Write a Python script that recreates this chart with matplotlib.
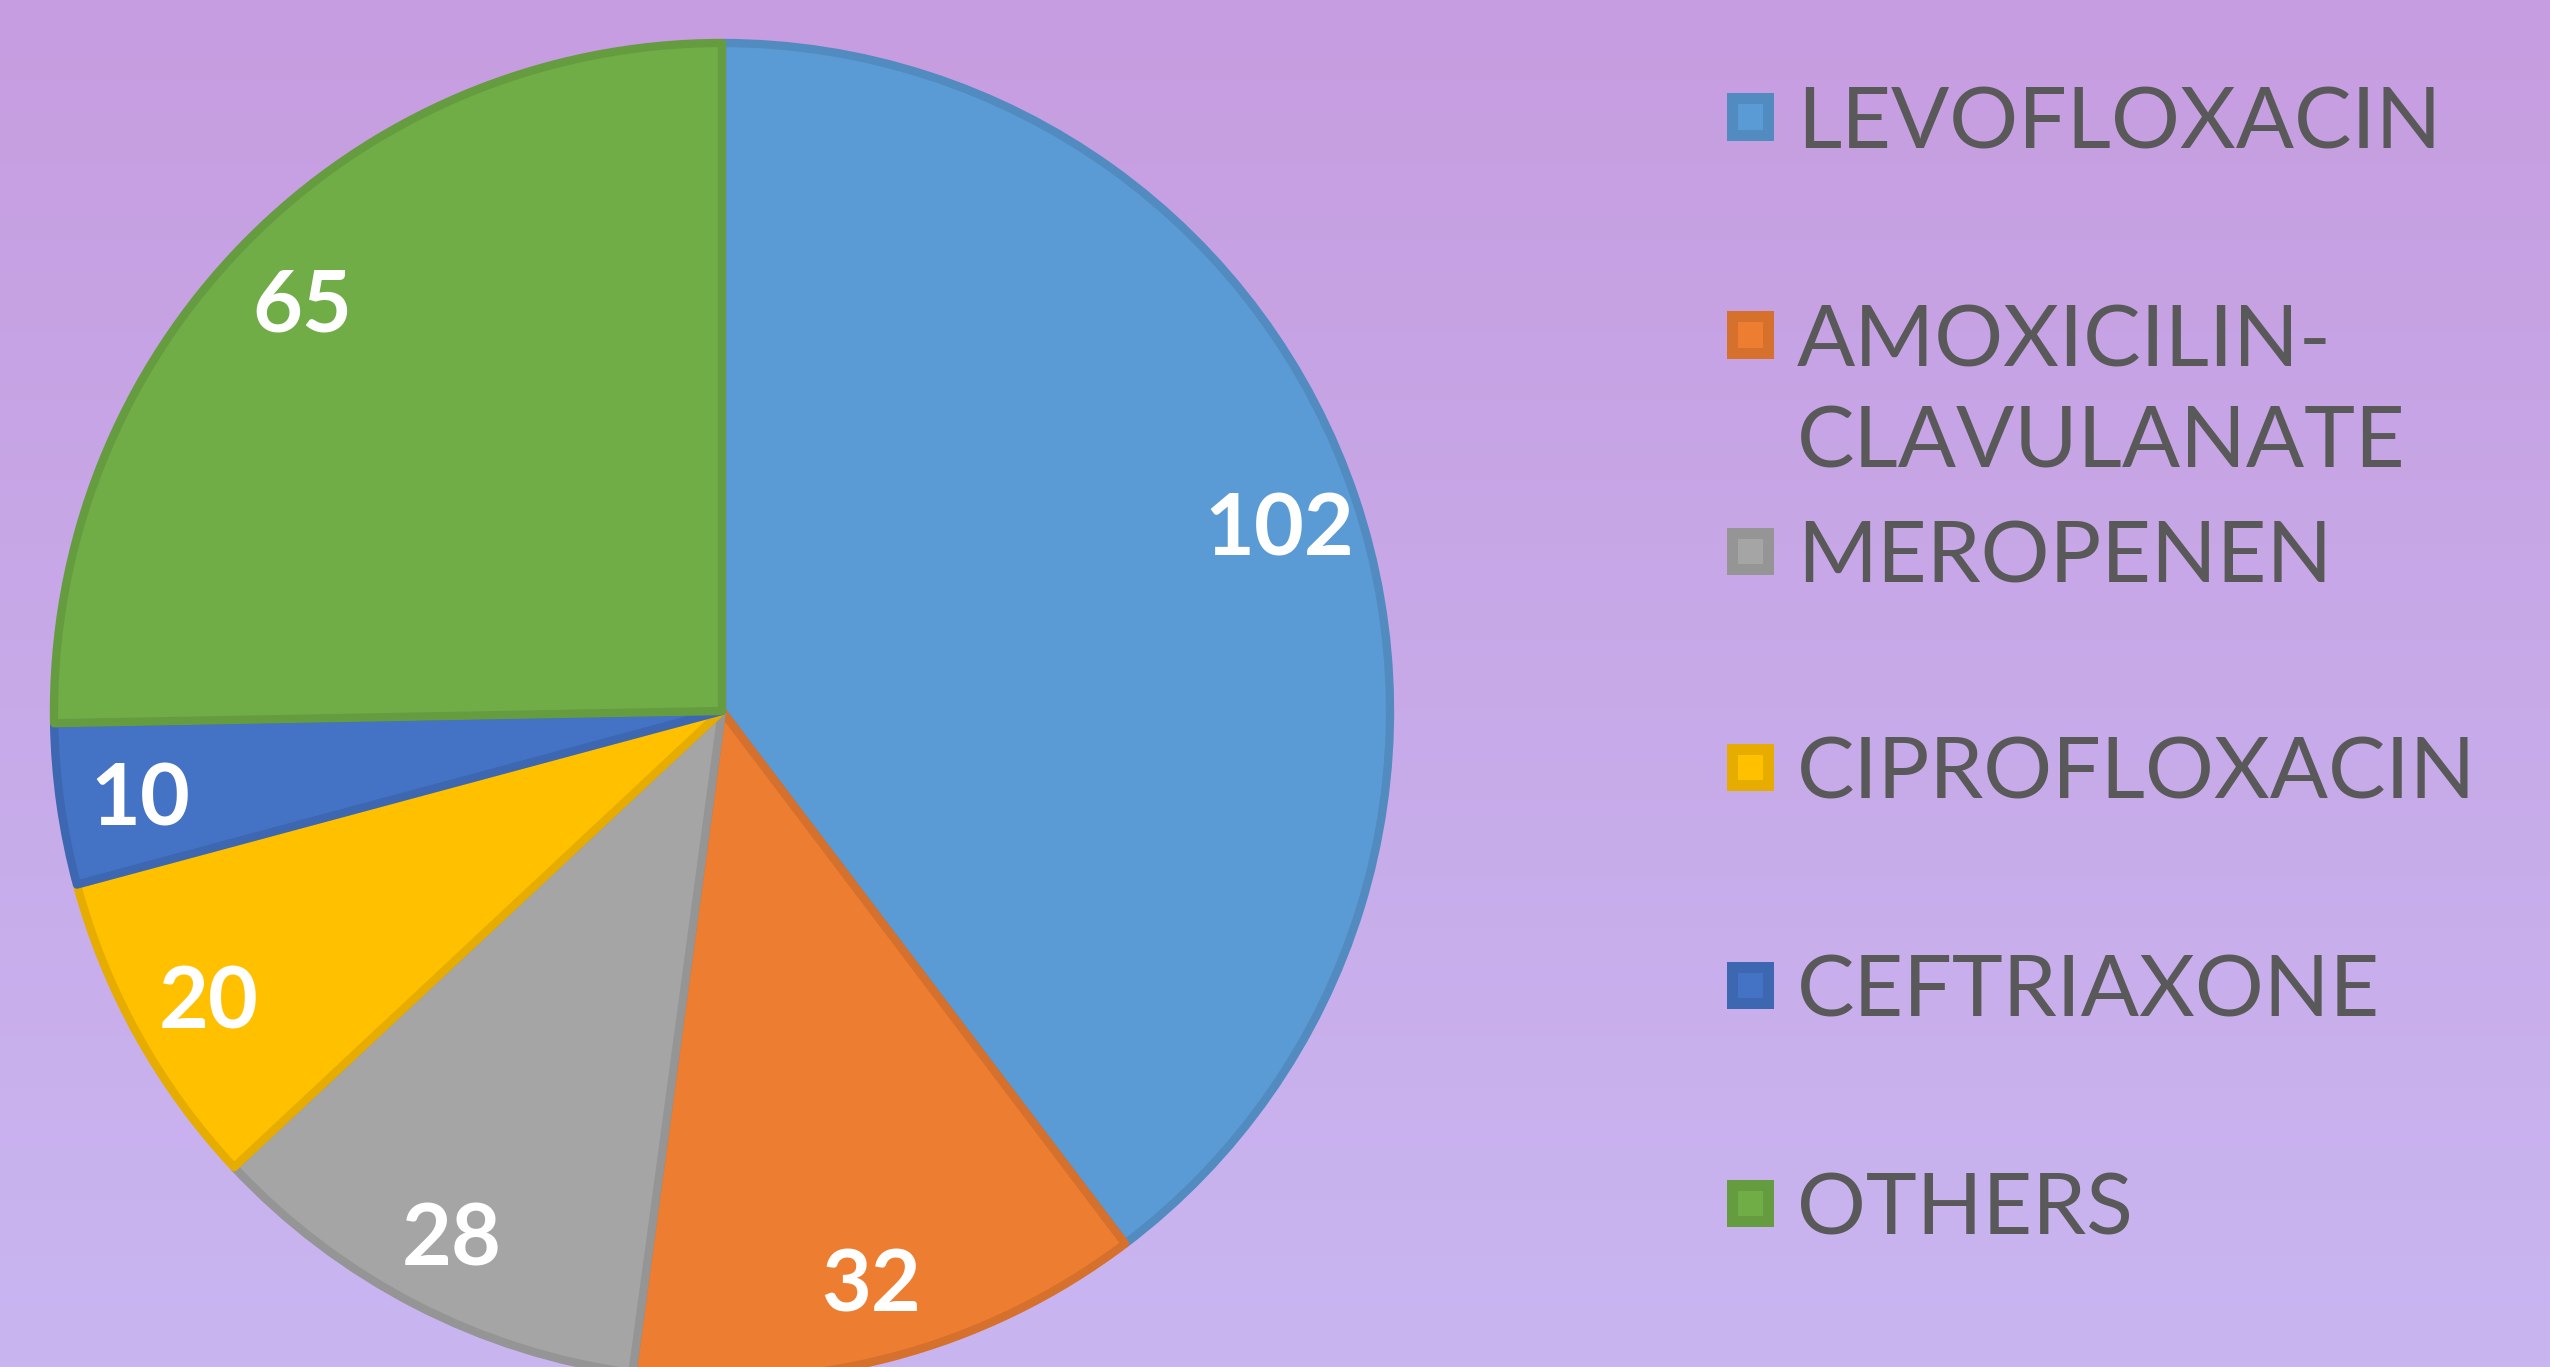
import numpy as np
import matplotlib
matplotlib.use("Agg")
import matplotlib.pyplot as plt
from matplotlib.colors import to_rgb
from matplotlib.patches import Rectangle

# data
drugs = ["LEVOFLOXACIN", "AMOXICILIN-\nCLAVULANATE", "MEROPENEN",
         "CIPROFLOXACIN", "CEFTRIAXONE", "OTHERS"]
counts = [102, 32, 28, 20, 10, 65]
fill_colors = ["#5B9BD5", "#ED7D31", "#A5A5A5", "#FFC000", "#4472C4", "#70AD47"]


def darker(c, f=0.9):
    r, g, b = to_rgb(c)
    return (r * f, g * f, b * f)


edge_colors = [darker(c) for c in fill_colors]

W, H = 2550, 1367
fig = plt.figure(figsize=(W / 100, H / 100), dpi=100)

# purple gradient background
bg = fig.add_axes([0, 0, 1, 1])
top = np.array(to_rgb("#C69DE0"))
bot = np.array(to_rgb("#C9B6F1"))
t = np.linspace(0, 1, 256)[:, None]
grad = top + (bot - top) * t
bg.imshow(grad[:, None, :].repeat(2, axis=1), aspect="auto", extent=[0, 1, 0, 1])
bg.axis("off")

# pie, centre and radius in pixels
cx, cy, r = 722, 711, 668
ax = fig.add_axes([(cx - r) / W, (H - cy - r) / H, 2 * r / W, 2 * r / H])
ax.set_facecolor("none")
wedges, texts, autotexts = ax.pie(
    counts, colors=fill_colors, startangle=90, counterclock=False,
    radius=1, autopct=lambda p: f"{p * sum(counts) / 100:.0f}",
    pctdistance=0.88,
    wedgeprops=dict(linewidth=6),
    textprops=dict(color="white", fontsize=62, fontweight="bold", family="Lato"))
for w, ec in zip(wedges, edge_colors):
    w.set_edgecolor(ec)
    w.set_joinstyle("round")
for at in autotexts:
    at.set_va("center_baseline")
ax.set_xlim(-1, 1)
ax.set_ylim(-1, 1)
ax.axis("off")

# legend drawn by hand to keep Excel-like spacing
row_y = [117, 335, 551, 767, 985, 1203]
box = 47
for name, fc, ec, y in zip(drugs, fill_colors, edge_colors, row_y):
    fig.add_artist(Rectangle(((1727) / W, (H - y - box / 2) / H), box / W, box / H,
                             transform=fig.transFigure, facecolor=ec, edgecolor="none"))
    inner = 25
    fig.add_artist(Rectangle(((1727 + (box - inner) / 2) / W, (H - y - inner / 2) / H),
                             inner / W, inner / H, transform=fig.transFigure,
                             facecolor=fc, edgecolor="none"))
    lines = name.split("\n")
    for k, line in enumerate(lines):
        fig.text(1797 / W, (H - y - 101 * k) / H, line, color="#595959",
                 fontsize=62, family="Lato", va="center_baseline", ha="left")

fig.savefig("out.png", dpi=100)
